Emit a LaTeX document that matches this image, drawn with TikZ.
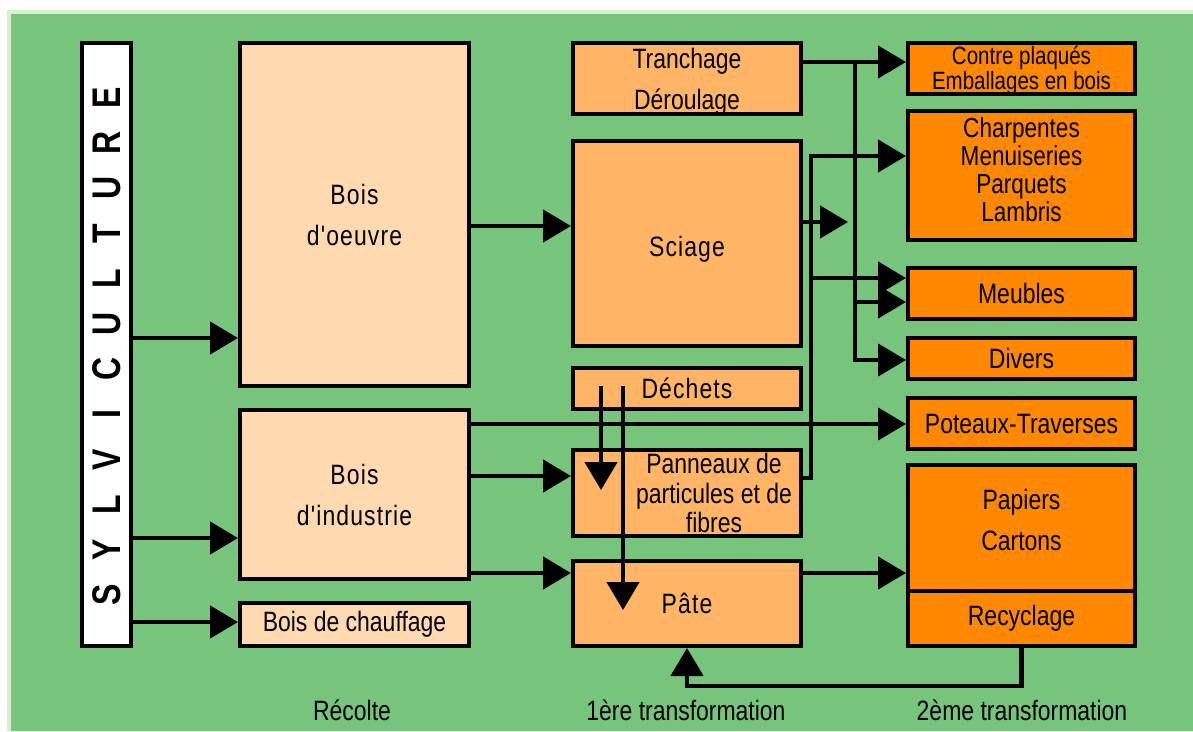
\documentclass[tikz,border=0pt]{standalone}
\usepackage{fontspec}
\setmainfont{Liberation Sans}[FakeStretch=0.82]
\newfontfamily\spacedfont{Liberation Sans}[FakeStretch=0.82,LetterSpace=4]
\newfontfamily\sylvfont{Liberation Sans}[FakeStretch=0.8]
\usetikzlibrary{arrows.meta, positioning}
\definecolor{forestgreen}{RGB}{119,196,125}
\definecolor{palegreen}{RGB}{216,237,212}
\definecolor{woodlight}{RGB}{255,218,176}
\definecolor{woodmid}{RGB}{255,181,101}
\definecolor{wooddark}{RGB}{255,136,0}
\newcommand{\boxfont}{\fontsize{28}{41}\selectfont}
\newcommand{\listfont}{\fontsize{27.5}{28}\selectfont}
\newcommand{\smallboxfont}{\fontsize{25}{23}\selectfont}
\tikzset{
  box/.style={
    draw,
    rectangle,
    line width=4pt,
    inner sep=0pt,
    align=center,
    font=\boxfont,
  },
  harvestbox/.style={
    box,
    fill=woodlight
  },
  firstbox/.style={
    box,
    fill=woodmid
  },
  secondbox/.style={
    box,
    fill=wooddark
  },
  sylvletter/.style={
    rotate=90,
    inner sep=0pt,
    font=\sylvfont\bfseries\fontsize{40}{40}\selectfont
  },
  steplabel/.style={
    font=\boxfont
  },
  arrow/.style={
    -{Triangle[length=28pt,width=32pt]},
    line width=4.5pt
  }
}

\begin{document}
\begin{tikzpicture}[x=1pt,y=-1pt]

% --- Fond ---
\useasboundingbox (0,0) rectangle (1193,731);
\fill[palegreen] (7,10) rectangle (1193,731);
\fill[forestgreen] (11,14) rectangle (1193,731);

% --- Sylviculture ---
\node[box, fill=white, minimum width=49pt, minimum height=603pt] (sylv) at (106.5,344.5) {};
\foreach \letter [count=\i from 0] in {S,Y,L,V,I,C,U,L,T,U,R,E}
  \node[sylvletter] (sylv-\i) at (107,595-45.2*\i) {\letter};

% --- Recolte ---
\node[harvestbox, minimum width=229pt, minimum height=343pt] (boisoeuvre) at (354.5,214.5)
  {\spacedfont Bois\\\spacedfont d'oeuvre};
\node[harvestbox, minimum width=229pt, minimum height=169pt] (boisind) at (354.5,494.5)
  {\spacedfont Bois\\\spacedfont d'industrie};
\node[harvestbox, minimum width=229pt, minimum height=43pt] (chauffage) at (354.5,624.5)
  {Bois de chauffage};

% --- 1ere transformation ---
\node[firstbox, minimum width=228pt, minimum height=71pt,
      label={[yshift=-3pt, align=center, font=\boxfont]center:Tranchage\\D\'eroulage}]
  (tranchage) at (687,78.5) {};
\node[firstbox, minimum width=228pt, minimum height=205pt,
      label={[yshift=-6pt, font=\boxfont\spacedfont]center:Sciage}]
  (sciage) at (687,243.5) {};
\node[firstbox, minimum width=228pt, minimum height=41pt] (dechets) at (687,388.5)
  {\spacedfont D\'echets};
\node[firstbox, minimum width=228pt, minimum height=86pt,
      label={[xshift=27pt, align=center, font=\fontsize{28}{29.5}\selectfont]center:Panneaux de\\particules et de\\fibres}]
  (panneaux) at (687,493) {};
\node[firstbox, minimum width=228pt, minimum height=85pt] (pate) at (687,603.5)
  {\spacedfont P\^ate};

% --- 2eme transformation ---
\node[secondbox, minimum width=227pt, minimum height=51pt,
      label={[yshift=-2pt, align=center, font=\smallboxfont]center:Contre plaqu\'es\\Emballages en bois}]
  (contre) at (1021.5,68.5) {};
\node[secondbox, minimum width=227pt, minimum height=129pt,
      label={[yshift=6pt, align=center, font=\listfont]center:Charpentes\\Menuiseries\\Parquets\\Lambris}]
  (charpentes) at (1021.5,175.5) {};
\node[secondbox, minimum width=227pt, minimum height=51pt] (meubles) at (1021.5,293.5) {Meubles};
\node[secondbox, minimum width=227pt, minimum height=41pt] (divers) at (1021.5,358.5) {Divers};
\node[secondbox, minimum width=227pt, minimum height=51pt] (poteaux) at (1021.5,423.5) {Poteaux-Traverses};
\node[secondbox, minimum width=227pt, minimum height=126pt,
      label={[yshift=8pt, align=center, font=\boxfont]center:Papiers\\Cartons}]
  (papiers) at (1021.5,528) {};
\node[secondbox, minimum width=227pt, minimum height=55pt] (recyclage) at (1021.5,618.5) {Recyclage};

% --- Etapes ---
\node[steplabel] (recolte) at (352,710) {R\'ecolte};
\node[steplabel] (premiere) at (686,710) {1\`ere transformation};
\node[steplabel] (seconde) at (1022,710) {2\`eme transformation};

% --- Points de depart ---
\coordinate (dechetsA) at (601,386);
\coordinate (dechetsB) at (623,386);
\coordinate (trunkA) at (855,62);
\coordinate (trunkB) at (811,478);
\coordinate (trunkS) at (848,222);

% --- Fleches recolte ---
\draw[arrow] (sylv.east |- 0,338) -- (boisoeuvre.west |- 0,338);
\draw[arrow] (sylv.east |- 0,538) -- (boisind.west |- 0,538);
\draw[arrow] (sylv.east |- 0,622) -- (chauffage.west |- 0,622);

% --- Fleches 1ere transformation ---
\draw[arrow] (boisoeuvre.east |- 0,226) -- (sciage.west |- 0,226);
\draw[arrow] (boisind.east |- 0,476) -- (panneaux.west |- 0,476);
\draw[arrow] (boisind.east |- 0,573) -- (pate.west |- 0,573);
\draw[arrow] (boisind.east |- 0,424) -- (poteaux.west |- 0,424);
\draw[arrow] (dechetsA) -- (dechetsA |- 0,490);
\draw[arrow] (dechetsB) -- (dechetsB |- 0,610);

% --- Fleches 2eme transformation ---
\draw[arrow] (tranchage.east |- trunkA) -- (contre.west |- trunkA);
\draw[arrow] (trunkA) -- (trunkA |- 0,360) -- (divers.west |- 0,360);
\draw[arrow] (trunkA |- 0,302) -- (meubles.west |- 0,302);
\draw[arrow] (sciage.east |- trunkS) -- (trunkS);
\draw[arrow] (panneaux.east |- trunkB) -- (trunkB) -- (trunkB |- 0,156) -- (charpentes.west |- 0,156);
\draw[arrow] (trunkB |- 0,278) -- (meubles.west |- 0,278);
\draw[arrow] (pate.east |- 0,573) -- (papiers.west |- 0,573);

% --- Recyclage ---
\draw[arrow] (recyclage.south) -- (recyclage.south |- 0,686) -| (pate.south);

\end{tikzpicture}
\end{document}
